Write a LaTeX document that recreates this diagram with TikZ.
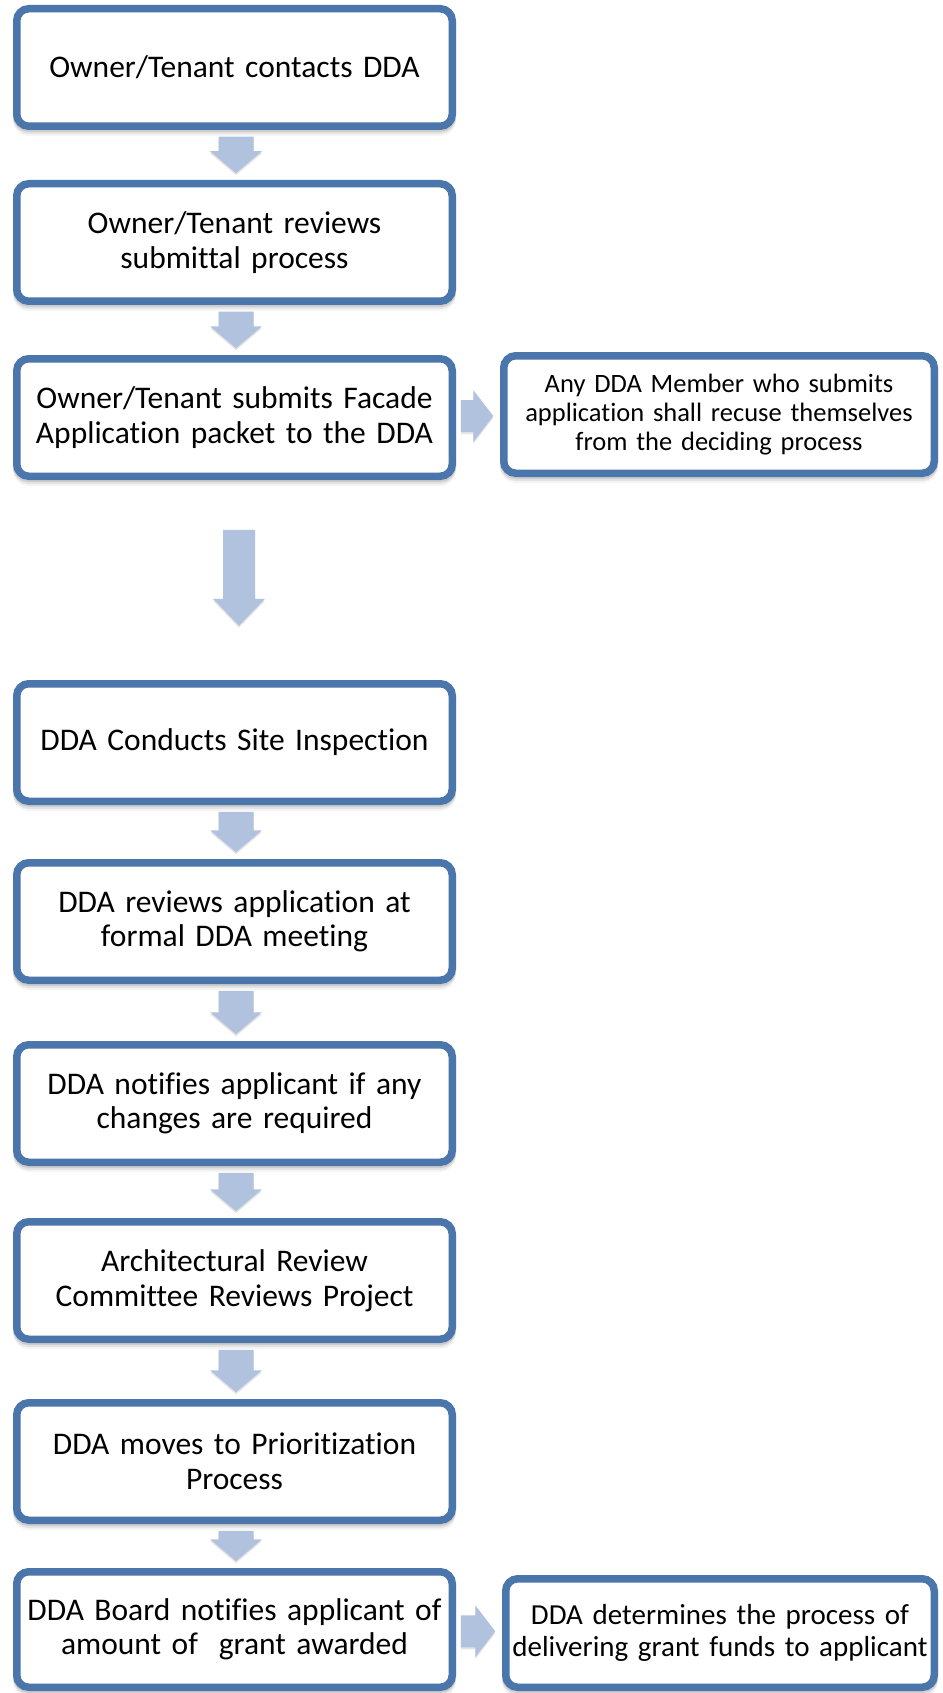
\documentclass[tikz,border=0pt]{standalone}
\usepackage{fontspec}
\setmainfont{Carlito}[Ligatures=NoCommon]
\usetikzlibrary{calc,shadows}
\definecolor{boxblue}{HTML}{4A76AC}
\definecolor{arrowblue}{HTML}{B0C2DE}
\tikzset{
  softshadow/.style={
    general shadow={shadow yshift=-2pt,draw=black,line width=7.5pt,opacity=0.10},
    general shadow={shadow yshift=-4pt,draw=black,line width=7.5pt,opacity=0.07},
    general shadow={shadow yshift=-6pt,draw=black,line width=7.5pt,opacity=0.04}},
  stepbox/.style={draw=boxblue, line width=7.5pt, rounded corners=12pt, fill=white,
    minimum width=435.5pt, minimum height=117.5pt, inner sep=0pt, align=center,
    text width=420pt, font=\fontsize{31.5}{34.5}\selectfont, softshadow},
  sidebox/.style={stepbox, minimum width=430.5pt, text width=428pt},
  blockarr/.style={fill=arrowblue, draw=none,
    general shadow={shadow yshift=-2pt, fill=black, opacity=0.10}},
}
\newcommand{\vblockarrow}[2]{%
  \path[blockarr] let \p1=(#1.south), \p2=(#2.north) in
    (\x1-16pt,\y1-6.75pt) -- (\x1+19pt,\y1-6.75pt) -- (\x1+19pt,\y2+28.75pt)
    -- (\x1+27.5pt,\y2+28.75pt) -- (\x1+1.5pt,\y2+6.75pt) -- (\x1-24.5pt,\y2+28.75pt)
    -- (\x1-16pt,\y2+28.75pt) -- cycle;}
\newcommand{\hblockarrow}[2]{%
  \path[blockarr] let \p1=(#1.east), \p2=(#2.west), \n1={0.5*\y1+0.5*\y2} in
    (\x1+4.75pt,\n1+16pt) -- (\x2-26.75pt,\n1+16pt) -- (\x2-26.75pt,\n1+26pt)
    -- (\x2-6.75pt,\n1) -- (\x2-26.75pt,\n1-26pt) -- (\x2-26.75pt,\n1-16pt)
    -- (\x1+4.75pt,\n1-16pt) -- cycle;}
\begin{document}
\begin{tikzpicture}[x=1pt,y=-1pt]
\useasboundingbox (0,0) rectangle (942,1693);
\node[stepbox] (b1) at (234.5,67.5) {Owner/Tenant contacts DDA};
\node[stepbox] (b2) at (234.5,242.5) {Owner/Tenant reviews\\submittal process};
\node[stepbox] (b3) at (234.5,417.5) {Owner/Tenant submits Facade\\Application packet to the DDA};
\node[sidebox, font=\fontsize{26.5}{28.8}\selectfont] (r1) at (719,414.5)
  {Any DDA Member who submits\\application shall recuse themselves\\from the deciding process};
\node[stepbox] (b4) at (234.5,742.5) {DDA Conducts Site Inspection};
\node[stepbox] (b5) at (234.5,921.5) {DDA reviews application at\\formal DDA meeting};
\node[stepbox] (b6) at (234.5,1103.5) {DDA notifies applicant if any\\changes are required};
\node[stepbox] (b7) at (234.5,1280.5) {Architectural Review\\Committee Reviews Project};
\node[stepbox] (b8) at (234.5,1461.5) {DDA moves to Prioritization\\Process};
\node[stepbox, minimum height=115.5pt] (b9) at (234.5,1629.5)
  {DDA Board notifies applicant of\\amount of~ grant awarded};
\node[sidebox, minimum height=108.5pt, minimum width=428.5pt, text width=428pt,
  font=\fontsize{29}{32}\selectfont] (r2) at (720,1633)
  {DDA determines the process of\\delivering grant funds to applicant};
\vblockarrow{b1}{b2}
\vblockarrow{b2}{b3}
\hblockarrow{b3}{r1}
\path[blockarr] let \p1=(b3.south) in
  (\x1-11.5pt,\y1-49.75pt) -- (\x1+20.5pt,\y1-49.75pt) -- (\x1+20.5pt,\y1-118.75pt)
  -- (\x1+30.5pt,\y1-118.75pt) -- (\x1+4.5pt,\y1-145.75pt) -- (\x1-21.5pt,\y1-118.75pt)
  -- (\x1-11.5pt,\y1-118.75pt) -- cycle;
\vblockarrow{b4}{b5}
\vblockarrow{b5}{b6}
\vblockarrow{b6}{b7}
\vblockarrow{b7}{b8}
\vblockarrow{b8}{b9}
\hblockarrow{b9}{r2}
\end{tikzpicture}
\end{document}
